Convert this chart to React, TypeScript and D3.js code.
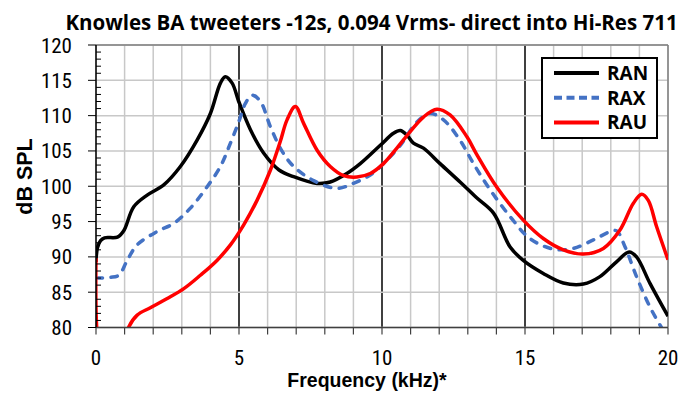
import React from "react";
import * as d3 from "d3";

const W = 693;
const H = 393;

const titleText = "Knowles BA tweeters -12s, 0.094 Vrms- direct into Hi-Res 711";
const xLabel = "Frequency (kHz)*";
const yLabel = "dB SPL";
const seriesNames = ["RAN", "RAX", "RAU"];
const seriesColors = ["#000000", "#4472C4", "#FF0000"];
const xTicks = [0, 5, 10, 15, 20];
const yTicks = [80, 85, 90, 95, 100, 105, 110, 115, 120];

const ran: [number, number][] = [
  [0, 89.3], [0.05, 91.3], [0.16, 92.3], [0.3, 92.7], [0.75, 92.8], [0.97, 93.7],
  [1.32, 97.1], [1.79, 98.75], [2.37, 100.2], [2.95, 102.8], [3.53, 106.5],
  [4.0, 110.3], [4.35, 114.6], [4.52, 115.5], [4.76, 114.6], [4.99, 112],
  [5.4, 108], [5.86, 104.7], [6.4, 102.3], [6.91, 101.35], [7.73, 100.4],
  [8.19, 100.6], [8.77, 101.8], [9.24, 103.2], [9.94, 105.8], [10.4, 107.5],
  [10.64, 107.9], [10.87, 107.25], [11.1, 106.1], [11.45, 105.4], [12.03, 103.2],
  [12.73, 100.6], [13.3, 98.4], [13.9, 96.2], [14.48, 91.4], [14.94, 89.5],
  [15.64, 87.65], [16.34, 86.3], [17.04, 86.15], [17.62, 87.2], [18.2, 89.3],
  [18.64, 90.7], [18.9, 90.0], [19.37, 86.25], [20, 81.6],
];

const rax: [number, number][] = [
  [0, 87.0], [0.5, 87.1], [0.8, 87.4], [1.09, 89.5], [1.44, 91.7], [2.14, 93.6],
  [2.72, 94.75], [3.3, 96.9], [3.88, 99.9], [4.35, 102.8], [4.7, 106.1],
  [4.99, 109.1], [5.22, 111.7], [5.46, 112.9], [5.75, 112], [6.1, 108.4],
  [6.5, 105], [6.91, 102.8], [7.61, 100.8], [8.42, 99.7], [9.0, 100.4],
  [9.59, 101.6], [10.05, 103.2], [10.64, 105.8], [11.22, 109.1], [11.68, 110.3],
  [12.15, 109.4], [12.73, 106.5], [13.2, 103.2], [13.78, 99.5], [14.48, 95.7],
  [15.17, 92.6], [15.99, 91.1], [16.69, 91.2], [17.39, 92.4], [17.97, 93.55],
  [18.2, 93.7], [18.5, 91.4], [18.9, 87.2], [19.37, 82.9], [19.77, 80], [20, 78.5],
];

const rau: [number, number][] = [
  [0, 89.8], [0.04, 79], [0.3, 72], [0.7, 74], [1.0, 77.8], [1.15, 80.1],
  [1.44, 81.75], [1.9, 82.8], [2.49, 84.1], [3.07, 85.5], [3.65, 87.4],
  [4.23, 89.5], [4.7, 91.7], [5.16, 94.5], [5.63, 98.0], [6.1, 102.3],
  [6.44, 106.3], [6.68, 109.4], [6.97, 111.3], [7.26, 108.9], [7.73, 105.1],
  [8.19, 102.8], [8.66, 101.5], [9.12, 101.3], [9.59, 101.8], [10.05, 103.2],
  [10.52, 105.4], [10.98, 107.7], [11.45, 109.8], [11.92, 110.9], [12.38, 110.1],
  [12.97, 107], [13.3, 104.6], [14.01, 99.9], [14.94, 95.2], [15.64, 92.6],
  [16.34, 91.0], [17.04, 90.4], [17.74, 91.2], [18.32, 93.8], [18.79, 97.6],
  [19.08, 98.85], [19.31, 98.0], [19.6, 94.3], [20, 89.6],
];

const allSeries = [ran, rax, rau];

const NARROW = "'Liberation Sans Narrow', 'Arial Narrow', 'Roboto Condensed', 'Liberation Sans', sans-serif";
const CAL = "'Open Sans', Lato, sans-serif";
const ARIAL = "'Liberation Sans', Arial, sans-serif";

export default function App() {
  const x0 = 96, x1 = 668, y0 = 327.5, y1 = 45;
  const x = d3.scaleLinear().domain([0, 20]).range([x0, x1]);
  const y = d3.scaleLinear().domain([80, 120]).range([y0, y1]);
  const line = d3
    .line<[number, number]>()
    .x((d) => x(d[0]))
    .y((d) => y(d[1]))
    .curve(d3.curveCatmullRom.alpha(0.5));

  const minorX = d3.range(0, 21, 1);
  const minorY = d3.range(80, 121, 1);

  return (
    <svg width={W} height={H} style={{ display: "block", position: "absolute", left: 0, top: 0 }}>
      <rect x={0} y={0} width={W} height={H} fill="#fff" />
      <defs>
        <clipPath id="plotclip">
          <rect x={x0} y={y1} width={x1 - x0} height={y0 - y1} />
        </clipPath>
      </defs>
      {minorX.map((v) => (
        <line key={"gx" + v} x1={x(v)} x2={x(v)} y1={y1} y2={y0}
          stroke={v % 5 === 0 && v > 0 && v < 20 ? "#000" : "#c8c8c8"}
          strokeWidth={1.5} />
      ))}
      {yTicks.map((v) => (
        <line key={"gy" + v} x1={x0} x2={x1} y1={y(v)} y2={y(v)} stroke="#c8c8c8" strokeWidth={1.5} />
      ))}
      <line x1={x0} x2={x1} y1={y1} y2={y1} stroke="#7f7f7f" strokeWidth={1.5} />
      <line x1={x1} x2={x1} y1={y1} y2={y0} stroke="#7f7f7f" strokeWidth={1.5} />
      <g clipPath="url(#plotclip)">
        {allSeries.map((s, i) => (
          <path key={i} d={line(s) || ""} fill="none" stroke={seriesColors[i]}
            strokeWidth={3.5} strokeLinejoin="round"
            strokeLinecap={i === 1 ? "round" : "butt"}
            strokeDasharray={i === 1 ? "6.5,8.5" : undefined} />
        ))}
      </g>
      <line x1={x0} x2={x1} y1={y0} y2={y0} stroke="#404040" strokeWidth={1.5} />
      <line x1={x0} x2={x0} y1={y1} y2={y0} stroke="#000" strokeWidth={1.5} />
      {minorX.map((v) => (
        <line key={"tx" + v} x1={x(v)} x2={x(v)} y1={y0} y2={y0 + 7} stroke="#404040" strokeWidth={1.2} />
      ))}
      {minorY.map((v) => (
        <line key={"ty" + v} x1={x0} x2={v % 5 === 0 ? x0 - 8 : x0 + 5} y1={y(v)} y2={y(v)}
          stroke="#000" strokeWidth={1} />
      ))}
      {yTicks.map((v) => (
        <text key={"ly" + v} x={72} y={y(v)} dy="0.36em" textAnchor="end" fontFamily={NARROW}
          fontSize={21} fill="#000">{v}</text>
      ))}
      {xTicks.map((v) => (
        <text key={"lx" + v} x={x(v)} y={357} dy="0.36em" textAnchor="middle" fontFamily={NARROW}
          fontSize={21} fill="#000">{v}</text>
      ))}
      <text x={371.5} y={29.5} textAnchor="middle" fontFamily={CAL} fontWeight="bold"
        fontSize={20.5} fill="#000">{titleText}</text>
      <text x={367} y={387} textAnchor="middle" fontFamily={ARIAL} fontWeight="bold"
        fontSize={19.5} fill="#000">{xLabel}</text>
      <text transform={`translate(31.5,176.5) rotate(-90)`} textAnchor="middle" fontFamily={ARIAL}
        fontWeight="bold" fontSize={21.5} fill="#000">{yLabel}</text>
      <rect x={542} y={58} width={115} height={80} fill="#fff" stroke="#000" strokeWidth={2} />
      {seriesNames.map((n, i) => {
        const ly = 73 + i * 24.8;
        return (
          <g key={n}>
            <line x1={554} x2={599} y1={ly} y2={ly} stroke={seriesColors[i]} strokeWidth={4}
              strokeDasharray={i === 1 ? "8,4.5" : undefined} />
            <text x={607} y={ly} dy="0.36em" fontFamily={CAL} fontWeight="bold" fontSize={19} fill="#000">{n}</text>
          </g>
        );
      })}
    </svg>
  );
}
